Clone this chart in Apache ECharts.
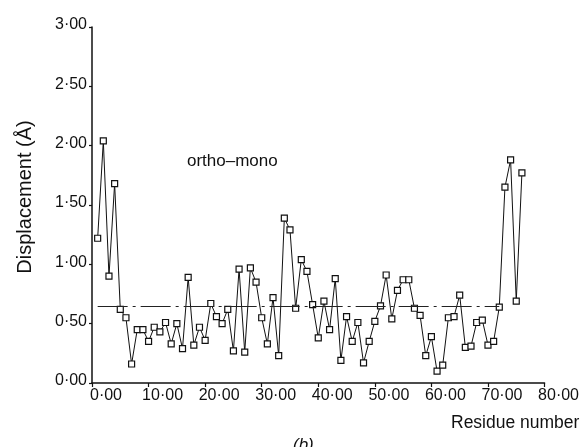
<!DOCTYPE html>
<html>
<head>
<meta charset="utf-8">
<script src="https://cdn.jsdelivr.net/npm/echarts@6/dist/echarts.min.js"></script>
<style>
html,body{margin:0;padding:0;background:#fff;}
#chart{width:582px;height:447px;}
</style>
</head>
<body>
<div id="chart"></div>
<script>
const residues = [1,2,3,4,5,6,7,8,9,10,11,12,13,14,15,16,17,18,19,20,21,22,23,24,25,26,27,28,29,30,31,32,33,34,35,36,37,38,39,40,41,42,43,44,45,46,47,48,49,50,51,52,53,54,55,56,57,58,59,60,61,62,63,64,65,66,67,68,69,70,71,72,73,74,75,76];
const displacement = [1.22,2.04,0.90,1.68,0.62,0.55,0.16,0.45,0.45,0.35,0.47,0.43,0.51,0.33,0.50,0.29,0.89,0.32,0.47,0.36,0.67,0.56,0.50,0.62,0.27,0.96,0.26,0.97,0.85,0.55,0.33,0.72,0.23,1.39,1.29,0.63,1.04,0.94,0.66,0.38,0.69,0.45,0.88,0.19,0.56,0.35,0.51,0.17,0.35,0.52,0.65,0.91,0.54,0.78,0.87,0.87,0.63,0.57,0.23,0.39,0.10,0.15,0.55,0.56,0.74,0.30,0.31,0.51,0.53,0.32,0.35,0.64,1.65,1.88,0.69,1.77];
const meanValue = 0.65;
const meanStart = 1;
const meanEnd = 72;
const xTicks = [0,10,20,30,40,50,60,70,80];
const yTicks = [0,0.5,1,1.5,2,2.5,3];
const seriesLabel = 'ortho–mono';
const xTitle = 'Residue number';
const yTitle = 'Displacement (Å)';
const panelLabel = '(b)';

const FONT = '"Liberation Sans", Arial, Helvetica, sans-serif';
const fmt = v => v.toFixed(2).replace('.', '·');

const chart = echarts.init(document.getElementById('chart'), null, {renderer: 'canvas'});
chart.setOption({
  animation: false,
  backgroundColor: '#fff',
  grid: {left: 92, right: 37, top: 27, bottom: 64, containLabel: false},
  xAxis: {
    type: 'value', min: xTicks[0], max: xTicks[xTicks.length - 1], interval: 10,
    axisLine: {show: true, onZero: false, lineStyle: {color: '#111', width: 1.5}},
    axisTick: {show: true, length: 4, lineStyle: {color: '#111', width: 1.2}},
    splitLine: {show: false},
    axisLabel: {color: '#111', fontFamily: FONT, fontSize: 16, margin: 5,
      align: 'center', padding: [0, 0, 0, 28], formatter: v => fmt(v)}
  },
  yAxis: {
    type: 'value', min: yTicks[0], max: yTicks[yTicks.length - 1], interval: 0.5,
    name: yTitle, nameLocation: 'middle', nameGap: 57, nameRotate: 90,
    nameTextStyle: {color: '#111', fontFamily: FONT, fontSize: 20, padding: [0, 0, 0, 16]},
    axisLine: {show: true, lineStyle: {color: '#111', width: 1.5}},
    axisTick: {show: true, length: 3, lineStyle: {color: '#111', width: 1.2}},
    splitLine: {show: false},
    axisLabel: {color: '#111', fontFamily: FONT, fontSize: 16, margin: 5,
      verticalAlign: 'bottom', padding: [0, 0, -6, 0], formatter: v => fmt(v)}
  },
  series: [{
    type: 'line',
    data: residues.map((r, i) => [r, displacement[i]]),
    symbol: 'rect', symbolSize: 6, showSymbol: true,
    lineStyle: {color: '#111', width: 1},
    itemStyle: {color: '#fff', borderColor: '#111', borderWidth: 1.2},
    markLine: {
      silent: true, symbol: ['none', 'none'], label: {show: false},
      lineStyle: {color: '#222', width: 1, type: [30, 5, 3, 5]},
      data: [[{coord: [meanStart, meanValue]}, {coord: [meanEnd, meanValue]}]]
    },
    z: 3
  }],
  graphic: [
    {type: 'text', left: 187, top: 153, style: {text: seriesLabel, font: '17px ' + FONT, fill: '#111'}},
    {type: 'text', left: 451, top: 414, style: {text: xTitle, font: '17.5px ' + FONT, fill: '#111'}},
    {type: 'text', left: 293, top: 437, style: {text: panelLabel, font: 'italic 17px ' + FONT, fill: '#111'}}
  ]
});
</script>
</body>
</html>
